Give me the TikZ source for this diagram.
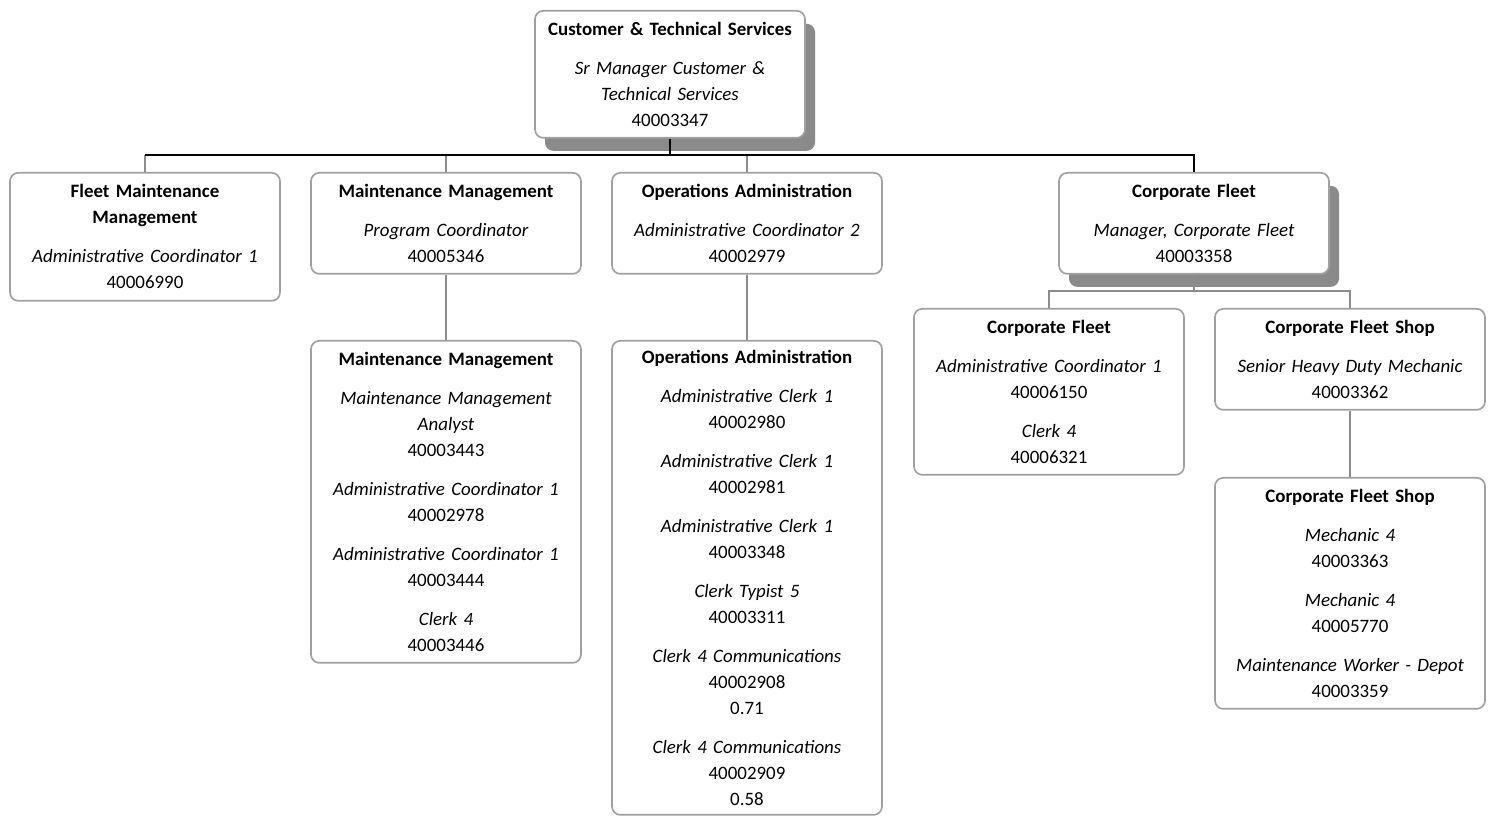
\documentclass[tikz,border=0pt]{standalone}
\usepackage{fontspec}
\setmainfont{Carlito}
\usepackage{tikz}
\usetikzlibrary{calc,positioning,shadows}
\definecolor{edgex}{HTML}{A0A0A0}
\definecolor{linkx}{HTML}{8C8C8C}
\definecolor{shadex}{HTML}{8A8A8A}
\tikzset{
  unit/.style={draw=edgex,line width=1pt,rounded corners=5pt,fill=white,anchor=north,
    text width=162pt,minimum height=#1,align=center,inner xsep=0pt,inner ysep=0pt,
    font=\fontsize{11.35}{15.6}\selectfont},
  head/.style={unit=#1,drop shadow={shadow xshift=6pt,shadow yshift=-7.8pt,fill=shadex,opacity=1}},
  trunk/.style={draw=black,line width=0.7pt},
  link/.style={draw=linkx,line width=0.9pt}
}
\newcommand{\gap}{\\[7.8pt]}

\begin{document}
\begin{tikzpicture}[x=0.6pt,y=-0.6pt]
\useasboundingbox (0,0) rectangle (1491,817);
% top
\node[head=76.2pt] (top) at (670,10) {\textbf{Customer \& Technical Services}\gap
  \textit{Sr Manager Customer \&}\\\textit{Technical Services}\\40003347};
% first level
\node[unit=76.8pt] (fmm) at (145,172) {\textbf{Fleet Maintenance}\\\textbf{Management}\gap
  \textit{Administrative Coordinator 1}\\40006990};
\node[unit=60.6pt] (mm) at (446,172) {\textbf{Maintenance Management}\gap
  \textit{Program Coordinator}\\40005346};
\node[unit=60.6pt] (oa) at (747,172) {\textbf{Operations Administration}\gap
  \textit{Administrative Coordinator 2}\\40002979};
\node[head=60.6pt] (cf) at (1194,172) {\textbf{Corporate Fleet}\gap
  \textit{Manager, Corporate Fleet}\\40003358};
% second level
\node[unit=193.2pt] (mmstaff) at (446,340) {\textbf{Maintenance Management}\gap
  \textit{Maintenance Management}\\\textit{Analyst}\\40003443\gap
  \textit{Administrative Coordinator 1}\\40002978\gap
  \textit{Administrative Coordinator 1}\\40003444\gap
  \textit{Clerk 4}\\40003446};
\node[unit=284.4pt] (oastaff) at (747,340) {\textbf{Operations Administration}\gap
  \textit{Administrative Clerk 1}\\40002980\gap
  \textit{Administrative Clerk 1}\\40002981\gap
  \textit{Administrative Clerk 1}\\40003348\gap
  \textit{Clerk Typist 5}\\40003311\gap
  \textit{Clerk 4 Communications}\\40002908\\0.71\gap
  \textit{Clerk 4 Communications}\\40002909\\0.58};
\node[unit=99.6pt] (cfadmin) at (1049,308) {\textbf{Corporate Fleet}\gap
  \textit{Administrative Coordinator 1}\\40006150\gap
  \textit{Clerk 4}\\40006321};
\node[unit=60.6pt] (shop) at (1350,308) {\textbf{Corporate Fleet Shop}\gap
  \textit{Senior Heavy Duty Mechanic}\\40003362};
\node[unit=138.6pt] (shopstaff) at (1350,477) {\textbf{Corporate Fleet Shop}\gap
  \textit{Mechanic 4}\\40003363\gap
  \textit{Mechanic 4}\\40005770\gap
  \textit{Maintenance Worker - Depot}\\40003359};
% connectors
\coordinate (hub) at (670,155);
\coordinate (cfhub) at (1194,291);
\draw[link] (fmm.north) -- (fmm.north |- hub);
\draw[link] (mm.north) -- (mm.north |- hub);
\draw[link] (oa.north) -- (oa.north |- hub);
\draw[trunk] (top.south) -- (hub);
\draw[trunk] (fmm.north |- hub) -- (cf.north |- hub) -- (cf.north);
\draw[link] (mm.south) -- (mmstaff.north);
\draw[link] (oa.south) -- (oastaff.north);
\draw[link] (cf.south) -- (cfhub);
\draw[link] (cfadmin.north) |- (cfhub) -| (shop.north);
\draw[link] (shop.south) -- (shopstaff.north);
\end{tikzpicture}
\end{document}
